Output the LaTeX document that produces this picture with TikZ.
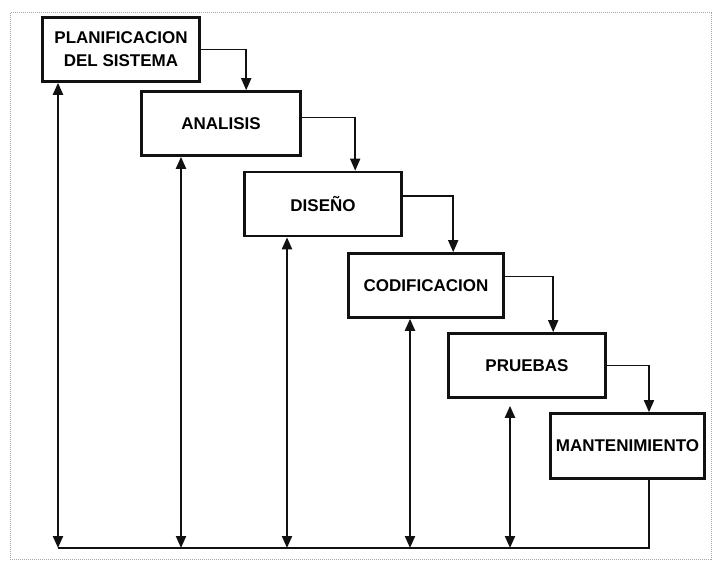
\documentclass[tikz,border=0pt]{standalone}
\usepackage{fontspec}
\setmainfont{Liberation Sans}
\usetikzlibrary{arrows.meta,positioning,calc}
\definecolor{ink}{HTML}{111111}
\tikzset{fase/.style={draw=ink,line width=2.6pt,fill=white,minimum width=157pt,
    minimum height=64pt,inner sep=0pt,align=center,
    font=\fontsize{17}{23}\selectfont\bfseries},
  enlace/.style={draw=ink,line width=1.6pt,-{Triangle[length=12pt,width=10pt]}},
  vida/.style={draw=ink,line width=2.1pt,
    {Triangle[length=12pt,width=10pt]}-{Triangle[length=12pt,width=10pt]}},
  base/.style={draw=ink,line width=2.1pt},
  marco/.style={draw=black!35,densely dotted,line width=1pt}}

\begin{document}
\begin{tikzpicture}[x=1pt,y=-1pt]
\useasboundingbox (0,0) rectangle (713,561);
\draw[marco] (10,13) rectangle (711,559);
% etapas
\node[fase] (plan) at (121,49.5) {PLANIFICACION\\DEL SISTEMA};
\node[fase,minimum width=159pt] (ana) at (221,123.5) {ANALISIS};
\node[fase] (dis) at (323,204) {DISEÑO};
\node[fase,minimum width=155pt] (cod) at (426,285.5) {CODIFICACION};
\node[fase] (pru) at (527,365.5) {PRUEBAS};
\node[fase,minimum width=154pt,minimum height=65pt] (man) at (627.5,446) {MANTENIMIENTO};
% linea de base
\coordinate (b1) at (58,548);
\coordinate (b2) at (181,548);
\coordinate (b3) at (287,548);
\coordinate (b4) at (410,548);
\coordinate (b5) at (510,548);
\coordinate (b6) at (649,548);
% cascada
\draw[enlace] (plan.east) -| ($(ana.north west)+(106,0)$);
\draw[enlace] ([yshift=6pt]ana.east) -| ($(dis.north west)+(112,0)$);
\draw[enlace] ([yshift=8pt]dis.east) -| ($(cod.north west)+(106,0)$);
\draw[enlace] ([yshift=9pt]cod.east) -| ($(pru.north west)+(106,0)$);
\draw[enlace] (pru.east) -| (b6 |- man.north);
% retorno
\draw[base] (b1) -- (b6) -- (b6 |- man.south);
\draw[vida] (b1) -- (b1 |- plan.south);
\draw[vida] (b2) -- (b2 |- ana.south);
\draw[vida] (b3) -- (b3 |- dis.south);
\draw[vida] (b4) -- (b4 |- cod.south);
\draw[vida] (b5) -- ($(b5 |- pru.south)+(0,7)$);
\end{tikzpicture}
\end{document}
